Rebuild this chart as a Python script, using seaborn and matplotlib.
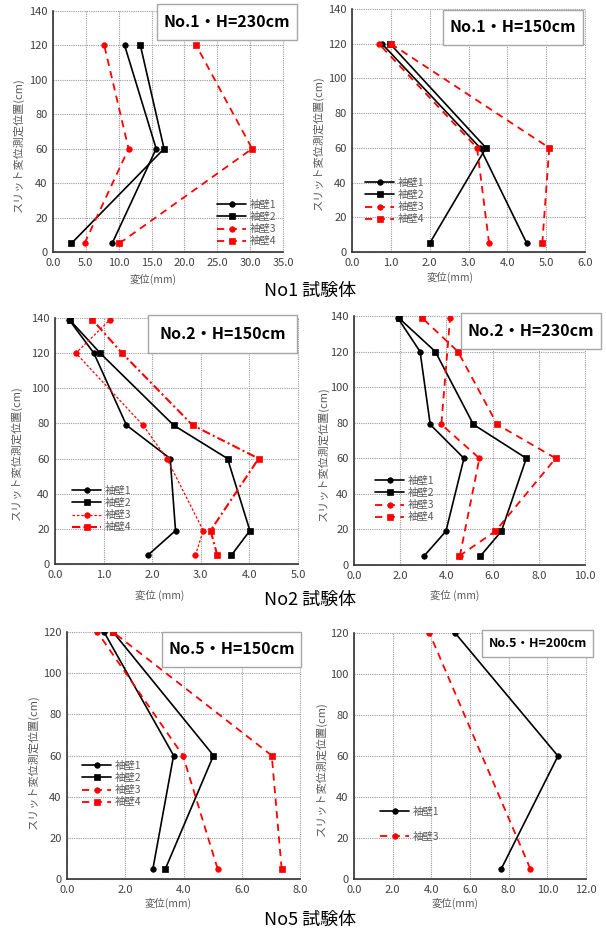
import numpy as np
import pandas as pd
import matplotlib
matplotlib.use('Agg')
import matplotlib.pyplot as plt
from matplotlib.patches import Rectangle
import seaborn as sns

W, H = 606, 936

# Heights of measurement points (cm)
H_3PT = [5, 60, 120]
H_6PT = [5, 19, 60, 79, 120, 139]

# No.1 H=230cm
p1_w1 = [9.0, 15.7, 10.9]
p1_w2 = [2.8, 16.9, 13.3]
p1_w3 = [4.8, 11.5, 7.8]
p1_w4 = [10.1, 30.3, 21.8]

# No.1 H=150cm
p2_w1 = [4.50, 3.30, 0.77]
p2_w2 = [2.00, 3.45, 0.98]
p2_w3 = [3.53, 3.22, 0.69]
p2_w4 = [4.90, 5.08, 1.00]

# No.2 H=150cm
p3_w1 = [1.91, 2.48, 2.37, 1.47, 0.80, 0.29]
p3_w2 = [3.63, 4.01, 3.55, 2.44, 0.93, 0.30]
p3_w3 = [2.89, 3.05, 2.30, 1.81, 0.43, 1.13]
p3_w4 = [3.34, 3.20, 4.19, 2.83, 1.38, 0.77]

# No.2 H=230cm
p4_w1 = [3.03, 3.98, 4.76, 3.30, 2.86, 1.89]
p4_w2 = [5.47, 6.38, 7.46, 5.17, 3.52, 1.93]
p4_w3 = [4.58, np.nan, 5.43, 3.78, np.nan, 4.16]
p4_w4 = [4.55, 6.12, 8.73, 6.20, 4.50, 2.94]

# No.5 H=150cm
p5_w1 = [2.95, 3.66, 1.27]
p5_w2 = [3.38, 5.03, 1.58]
p5_w3 = [5.17, 3.98, 1.04]
p5_w4 = [7.37, 7.03, 1.58]

# No.5 H=200cm
p6_w1 = [7.62, 10.55, 5.23]
p6_w3 = [9.12, np.nan, 3.90]

LABELS = ['袖壁1', '袖壁2', '袖壁3', '袖壁4']
YLABEL = 'スリット変位測定位置(cm)'
GRAY = '#595959'
DASH = (0, (4, 3))

sns.set_theme(style='white')
plt.rcParams['font.family'] = ['Noto Sans CJK JP', 'DejaVu Sans']


def fx(x):
    return x / W


def fy(y):
    return 1 - y / H


def add_axes(fig, left, right, top, bottom):
    return fig.add_axes([fx(left), fy(bottom), (right - left) / W,
                         (bottom - top) / H])


def draw_series(ax, heights, vals, label, color, marker, ls, lw=1.3, ms=4):
    df = pd.DataFrame({'x': vals, 'y': heights}).dropna()
    sns.lineplot(data=df, x='x', y='y', orient='y', estimator=None,
                 sort=True, ax=ax, color=color, marker=marker,
                 markersize=ms, markeredgecolor=color, markeredgewidth=0.5,
                 linestyle=ls, linewidth=lw, label=label)


def style_axes(ax, xmax, xstep, ymax, box, xlab_pos, ylab_pos, xlab='変位(mm)'):
    ax.set_xlim(0, xmax)
    ax.set_ylim(0, ymax)
    ax.set_xticks(np.arange(0, xmax + xstep / 2, xstep))
    ax.set_yticks(np.arange(0, ymax + 1, 20))
    ax.set_xticklabels([f'{v:.1f}' for v in ax.get_xticks()])
    ax.grid(True, linestyle=(0, (1, 1)), color='#9a9a9a', linewidth=0.8)
    for gl in ax.get_xgridlines() + ax.get_ygridlines():
        gl.set_clip_on(False)
    ax.spines['top'].set_visible(False)
    ax.spines['right'].set_visible(False)
    for s in ['left', 'bottom']:
        ax.spines[s].set_color('#333333')
        ax.spines[s].set_linewidth(1.2)
    ax.tick_params(length=0, labelsize=8, labelcolor='#404040', pad=4)
    ax.set_axisbelow(True)

    l, r, t, b = box['ax']
    ax.set_xlabel(xlab, fontsize=7.5, color=GRAY)
    ax.xaxis.set_label_coords((xlab_pos[0] - l) / (r - l),
                              (b - xlab_pos[1]) / (b - t))
    ax.xaxis.label.set_va('center')
    ax.set_ylabel(YLABEL, fontsize=8, color=GRAY)
    ax.yaxis.set_label_coords((ylab_pos[0] - l) / (r - l),
                              (b - ylab_pos[1]) / (b - t))
    ax.yaxis.label.set_va('center')


def title_box(fig, text, x0, x1, y0, y1, size=11.5):
    fig.add_artist(Rectangle((fx(x0), fy(y1)), (x1 - x0) / W, (y1 - y0) / H,
                             transform=fig.transFigure, facecolor='white',
                             edgecolor='#a6a6a6', linewidth=1.0, zorder=5))
    fig.text(fx((x0 + x1) / 2), fy((y0 + y1) / 2), text, ha='center',
             va='center', fontsize=size, fontweight='bold', color='black',
             zorder=6)


def legend(ax, fig, x, y, spacing=0.2):
    ax.legend(loc='upper left', bbox_to_anchor=(fx(x), fy(y)),
              bbox_transform=fig.transFigure, frameon=False, fontsize=7.5,
              handlelength=2.8, handletextpad=0.3, labelspacing=spacing,
              borderpad=0, borderaxespad=0, labelcolor=GRAY)


fig = plt.figure(figsize=(W / 100, H / 100), dpi=100)
fig.patch.set_facecolor('white')

# Panel 1
box = {'ax': (53, 283, 11, 252)}
ax = add_axes(fig, *box['ax'])
draw_series(ax, H_3PT, p1_w1, LABELS[0], 'black', 'o', '-', 1.2, 4)
draw_series(ax, H_3PT, p1_w2, LABELS[1], 'black', 's', '-', 1.2, 5)
draw_series(ax, H_3PT, p1_w3, LABELS[2], 'red', 'o', DASH, 1.3, 4)
draw_series(ax, H_3PT, p1_w4, LABELS[3], 'red', 's', DASH, 1.3, 5)
style_axes(ax, 35, 5, 140, box, (153, 279), (18, 145))
legend(ax, fig, 217, 200)
title_box(fig, 'No.1・H=230cm', 157, 297, 4, 40)

# Panel 2
box = {'ax': (352, 585, 9, 252)}
ax = add_axes(fig, *box['ax'])
draw_series(ax, H_3PT, p2_w1, LABELS[0], 'black', 'o', '-', 1.2, 4)
draw_series(ax, H_3PT, p2_w2, LABELS[1], 'black', 's', '-', 1.2, 5)
draw_series(ax, H_3PT, p2_w3, LABELS[2], 'red', 'o', DASH, 1.3, 4)
draw_series(ax, H_3PT, p2_w4, LABELS[3], 'red', 's', DASH, 1.3, 5)
style_axes(ax, 6, 1, 140, box, (450, 277), (318, 143))
legend(ax, fig, 365, 178)
title_box(fig, 'No.1・H=150cm', 443, 583, 10, 45)

# Panel 3
box = {'ax': (55, 298, 318, 564)}
ax = add_axes(fig, *box['ax'])
draw_series(ax, H_6PT, p3_w1, LABELS[0], 'black', 'o', '-', 1.2, 4)
draw_series(ax, H_6PT, p3_w2, LABELS[1], 'black', 's', '-', 1.2, 5)
draw_series(ax, H_6PT, p3_w3, LABELS[2], 'red', 'o', (0, (2, 1.5)), 0.9, 4)
draw_series(ax, H_6PT, p3_w4, LABELS[3], 'red', 's', (0, (4, 1.5, 1, 1.5)),
            1.5, 5)
style_axes(ax, 5, 1, 140, box, (160, 595), (16, 453), xlab='変位 (mm)')
legend(ax, fig, 72, 486)
title_box(fig, 'No.2・H=150cm', 148, 297, 315, 353)

# Panel 4
box = {'ax': (354, 585, 316, 565)}
ax = add_axes(fig, *box['ax'])
draw_series(ax, H_6PT, p4_w1, LABELS[0], 'black', 'o', '-', 1.2, 4)
draw_series(ax, H_6PT, p4_w2, LABELS[1], 'black', 's', '-', 1.2, 5)
draw_series(ax, H_6PT, p4_w3, LABELS[2], 'red', 'o', DASH, 1.3, 4)
draw_series(ax, H_6PT, p4_w4, LABELS[3], 'red', 's', DASH, 1.3, 5)
style_axes(ax, 10, 2, 140, box, (455, 595), (323, 454), xlab='変位 (mm)')
legend(ax, fig, 375, 476)
title_box(fig, 'No.2・H=230cm', 461, 601, 313, 349)

# Panel 5
box = {'ax': (67, 300, 632, 879)}
ax = add_axes(fig, *box['ax'])
draw_series(ax, H_3PT, p5_w1, LABELS[0], 'black', 'o', '-', 1.2, 4)
draw_series(ax, H_3PT, p5_w2, LABELS[1], 'black', 's', '-', 1.2, 5)
draw_series(ax, H_3PT, p5_w3, LABELS[2], 'red', 'o', DASH, 1.3, 4)
draw_series(ax, H_3PT, p5_w4, LABELS[3], 'red', 's', DASH, 1.3, 5)
style_axes(ax, 8, 2, 120, box, (168, 903), (33, 762))
legend(ax, fig, 82, 761)
title_box(fig, 'No.5・H=150cm', 162, 301, 632, 667)

# Panel 6
box = {'ax': (354, 586, 633, 879)}
ax = add_axes(fig, *box['ax'])
draw_series(ax, H_3PT, p6_w1, LABELS[0], 'black', 'o', '-', 1.2, 4)
draw_series(ax, H_3PT, p6_w3, LABELS[2], 'red', 'o', DASH, 1.3, 4)
style_axes(ax, 12, 2, 120, box, (455, 903), (321, 769))
legend(ax, fig, 380, 807, spacing=1.4)
title_box(fig, 'No.5・H=200cm', 482, 593, 630, 657, size=9)

# Row titles
for txt, y in [('No1 試験体', 291), ('No2 試験体', 600), ('No5 試験体', 920)]:
    fig.text(fx(310), fy(y), txt, ha='center', va='center', fontsize=13,
             color='black')

fig.savefig('out.png', dpi=100, facecolor='white')
